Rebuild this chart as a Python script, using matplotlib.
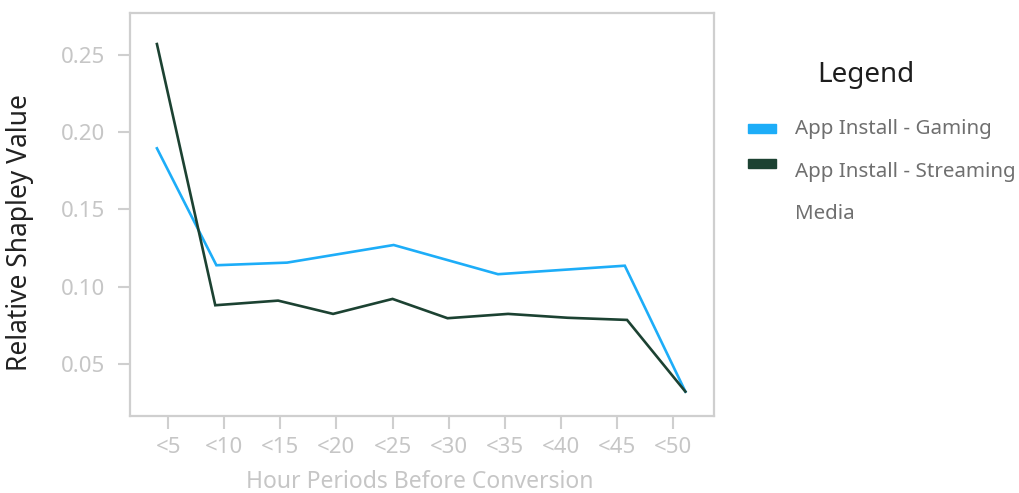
import matplotlib
matplotlib.use("Agg")
import matplotlib.pyplot as plt
from matplotlib.patches import Rectangle

plt.rcParams['font.family'] = ['Noto Sans', 'DejaVu Sans']

# Hour bins shown on the x axis
tick_hours = [5, 10, 15, 20, 25, 30, 35, 40, 45, 50]
tick_labels = ["<5", "<10", "<15", "<20", "<25", "<30", "<35", "<40", "<45", "<50"]

# Series: mean hour position and relative Shapley value
series_names = ["App Install - Gaming", "App Install - Streaming\nMedia"]
series_colors = ["#1DADF8", "#1C4232"]

gaming_hours = [4.0, 9.3, 15.6, 25.1, 34.4, 45.7, 51.1]
gaming_values = [0.1896, 0.1139, 0.1156, 0.1270, 0.1081, 0.1136, 0.0321]

streaming_hours = [4.0, 9.2, 14.8, 19.7, 25.0, 29.9, 35.3, 40.6, 45.9, 51.1]
streaming_values = [0.2571, 0.0880, 0.0910, 0.0824, 0.0921, 0.0796, 0.0824,
                    0.0799, 0.0785, 0.0321]

y_ticks = [0.05, 0.10, 0.15, 0.20, 0.25]

W, H = 1019, 493
fig = plt.figure(figsize=(W / 100, H / 100), dpi=100)
ax = fig.add_axes([130 / W, (H - 416) / H, (714 - 130) / W, (416 - 13) / H])

ax.plot(gaming_hours, gaming_values, color=series_colors[0], lw=1.9,
        solid_joinstyle='miter')
ax.plot(streaming_hours, streaming_values, color=series_colors[1], lw=1.9,
        solid_joinstyle='miter')

ax.set_xlim(1.6, 53.65)
ax.set_ylim(0.0163, 0.2772)

frame_col = "#cfcfcf"
tick_txt = "#c6c6c6"
for s in ax.spines.values():
    s.set_color(frame_col)
    s.set_linewidth(1.6)

ax.set_xticks(tick_hours)
ax.set_xticklabels(tick_labels)
ax.set_yticks(y_ticks)
ax.set_yticklabels([f"{v:.2f}" for v in y_ticks])
ax.tick_params(axis='both', direction='out', length=9, width=1.5,
               color=frame_col, labelcolor=tick_txt, labelsize=16)
ax.tick_params(axis='x', pad=6)
ax.tick_params(axis='y', pad=9)

fig.text(420 / W, 1 - 482 / H, "Hour Periods Before Conversion",
         ha='center', va='center', fontsize=16.5, color=tick_txt)
fig.text(20 / W, 1 - 233 / H, "Relative Shapley Value", rotation=90,
         ha='center', va='center', fontsize=19, color="#222222")

# Legend drawn in figure space
fig.text(866 / W, 1 - 75 / H, "Legend", ha='center', va='center',
         fontsize=20, color="#1e1e1e")
patch_y = [128.5, 163.5]
line_y = iter([129, 172, 214])
for name, col, py in zip(series_names, series_colors, patch_y):
    fig.patches.append(Rectangle((748 / W, 1 - (py + 4.5) / H), 28 / W, 9 / H,
                                 transform=fig.transFigure, color=col))
    for part in name.split("\n"):
        fig.text(795 / W, 1 - next(line_y) / H, part, ha='left', va='center',
                 fontsize=14.8, color="#6f6f6f")

fig.savefig("out.png", dpi=100)
